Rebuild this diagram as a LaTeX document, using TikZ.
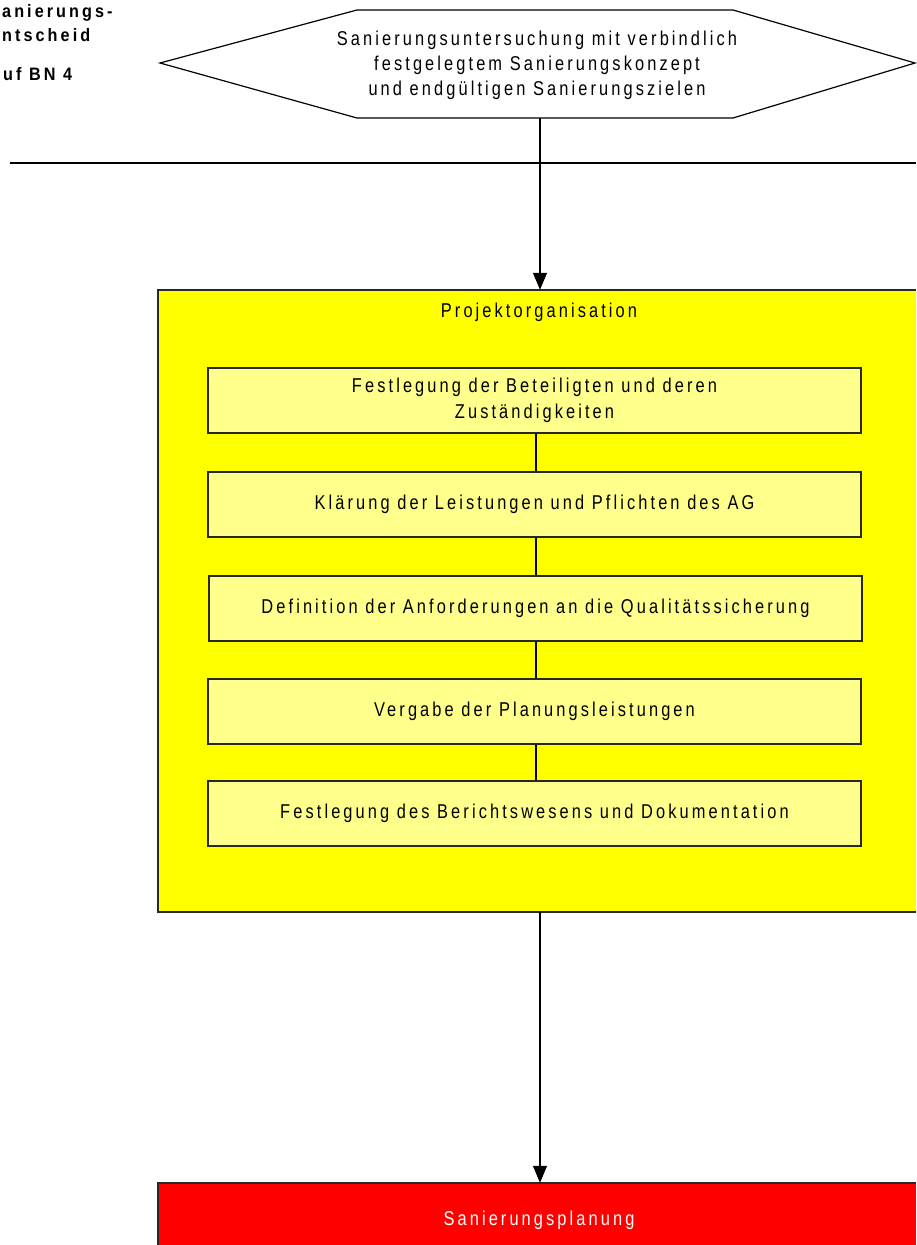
\documentclass[tikz,border=0pt]{standalone}
\usepackage{fontspec}
\setmainfont{Liberation Sans}
\newfontfamily\boxfont[LetterSpace=15.5,FakeStretch=0.82]{Liberation Sans}
\newfontfamily\leftfont[LetterSpace=17,FakeStretch=0.9]{Liberation Sans}
\usetikzlibrary{arrows.meta}
\definecolor{paleyellow}{RGB}{255,255,140}
\definecolor{mainyellow}{RGB}{255,255,0}
\definecolor{mainred}{RGB}{255,0,0}
\definecolor{boxborder}{RGB}{40,40,40}
\begin{document}
\begin{tikzpicture}[x=1pt,y=-1pt,
  txt/.style={font={\boxfont\fontsize{20}{25}\selectfont}, align=center, inner sep=0pt},
  lefttxt/.style={font={\leftfont\bfseries\fontsize{18}{20}\selectfont}, anchor=west, inner sep=0pt},
  inbox/.style={draw=boxborder, line width=1.5pt, fill=paleyellow, minimum width=653pt, minimum height=65pt, inner sep=0pt, font={\boxfont\fontsize{20}{26}\selectfont}, align=center},
  conn/.style={draw=black, line width=1.2pt},
  arr/.style={draw=black, line width=1.2pt, -{Triangle[width=14pt,length=17pt]}},
  border/.style={draw=boxborder, line width=1.5pt}
]
\useasboundingbox (0,0) rectangle (916,1245);

% left fragment texts
\node[lefttxt] (l1) at (2,13) {anierungs-};
\node[lefttxt] (l2) at (2,35) {ntscheid};
\node[lefttxt] (l3) at (3,74) {uf BN 4};

% hexagon
\draw[line width=1.2pt] (160,63) -- (357,10) -- (733,10) -- (915,63) -- (733,118) -- (357,118) -- cycle;
\node[txt] (hex) at (537,65) {Sanierungsuntersuchung mit verbindlich\\festgelegtem Sanierungskonzept\\und endgültigen Sanierungszielen};
\coordinate (hexb) at (540,118);

% horizontal separator
\coordinate (hl1) at (10,163);
\coordinate (hl2) at (916,163);
\draw[line width=1.2pt] (hl1) -- (hl2);

% outer yellow box
\node[fill=mainyellow, minimum width=758pt, minimum height=622pt, inner sep=0pt] (org) at (537,601) {};
\draw[border] (org.north east) -- (org.north west) -- (org.south west) -- (org.south east);
\node[txt] (orgt) at (539,312) {Projektorganisation};

% inner boxes
\node[inbox] (b1) at (534.5,400.5) {Festlegung der Beteiligten und deren\\Zuständigkeiten};
\node[inbox] (b2) at (534.5,504.5) {Klärung der Leistungen und Pflichten des AG};
\node[inbox] (b3) at (535.5,608.5) {Definition der Anforderungen an die Qualitätssicherung};
\node[inbox] (b4) at (534.5,711.5) {Vergabe der Planungsleistungen};
\node[inbox] (b5) at (534.5,813.5) {Festlegung des Berichtswesens und Dokumentation};

\draw[conn] ([xshift=1.5pt]b1.south) -- ([xshift=1.5pt]b2.north);
\draw[conn] ([xshift=1.5pt]b2.south) -- ([xshift=0.5pt]b3.north);
\draw[conn] ([xshift=0.5pt]b3.south) -- ([xshift=1.5pt]b4.north);
\draw[conn] ([xshift=1.5pt]b4.south) -- ([xshift=1.5pt]b5.north);

% red box
\node[fill=mainred, minimum width=758pt, minimum height=62pt, inner sep=0pt] (plan) at (537,1214) {};
\draw[border] (plan.south west) -- (plan.north west) -- (plan.north east);
\node[txt, text=white] (plant) at (539,1220) {Sanierungsplanung};

% arrows
\draw[arr] (hexb) -- (hexb |- org.north);
\coordinate (orgb) at (540,912);
\draw[arr] (orgb) -- (orgb |- plan.north);
\end{tikzpicture}
\end{document}
